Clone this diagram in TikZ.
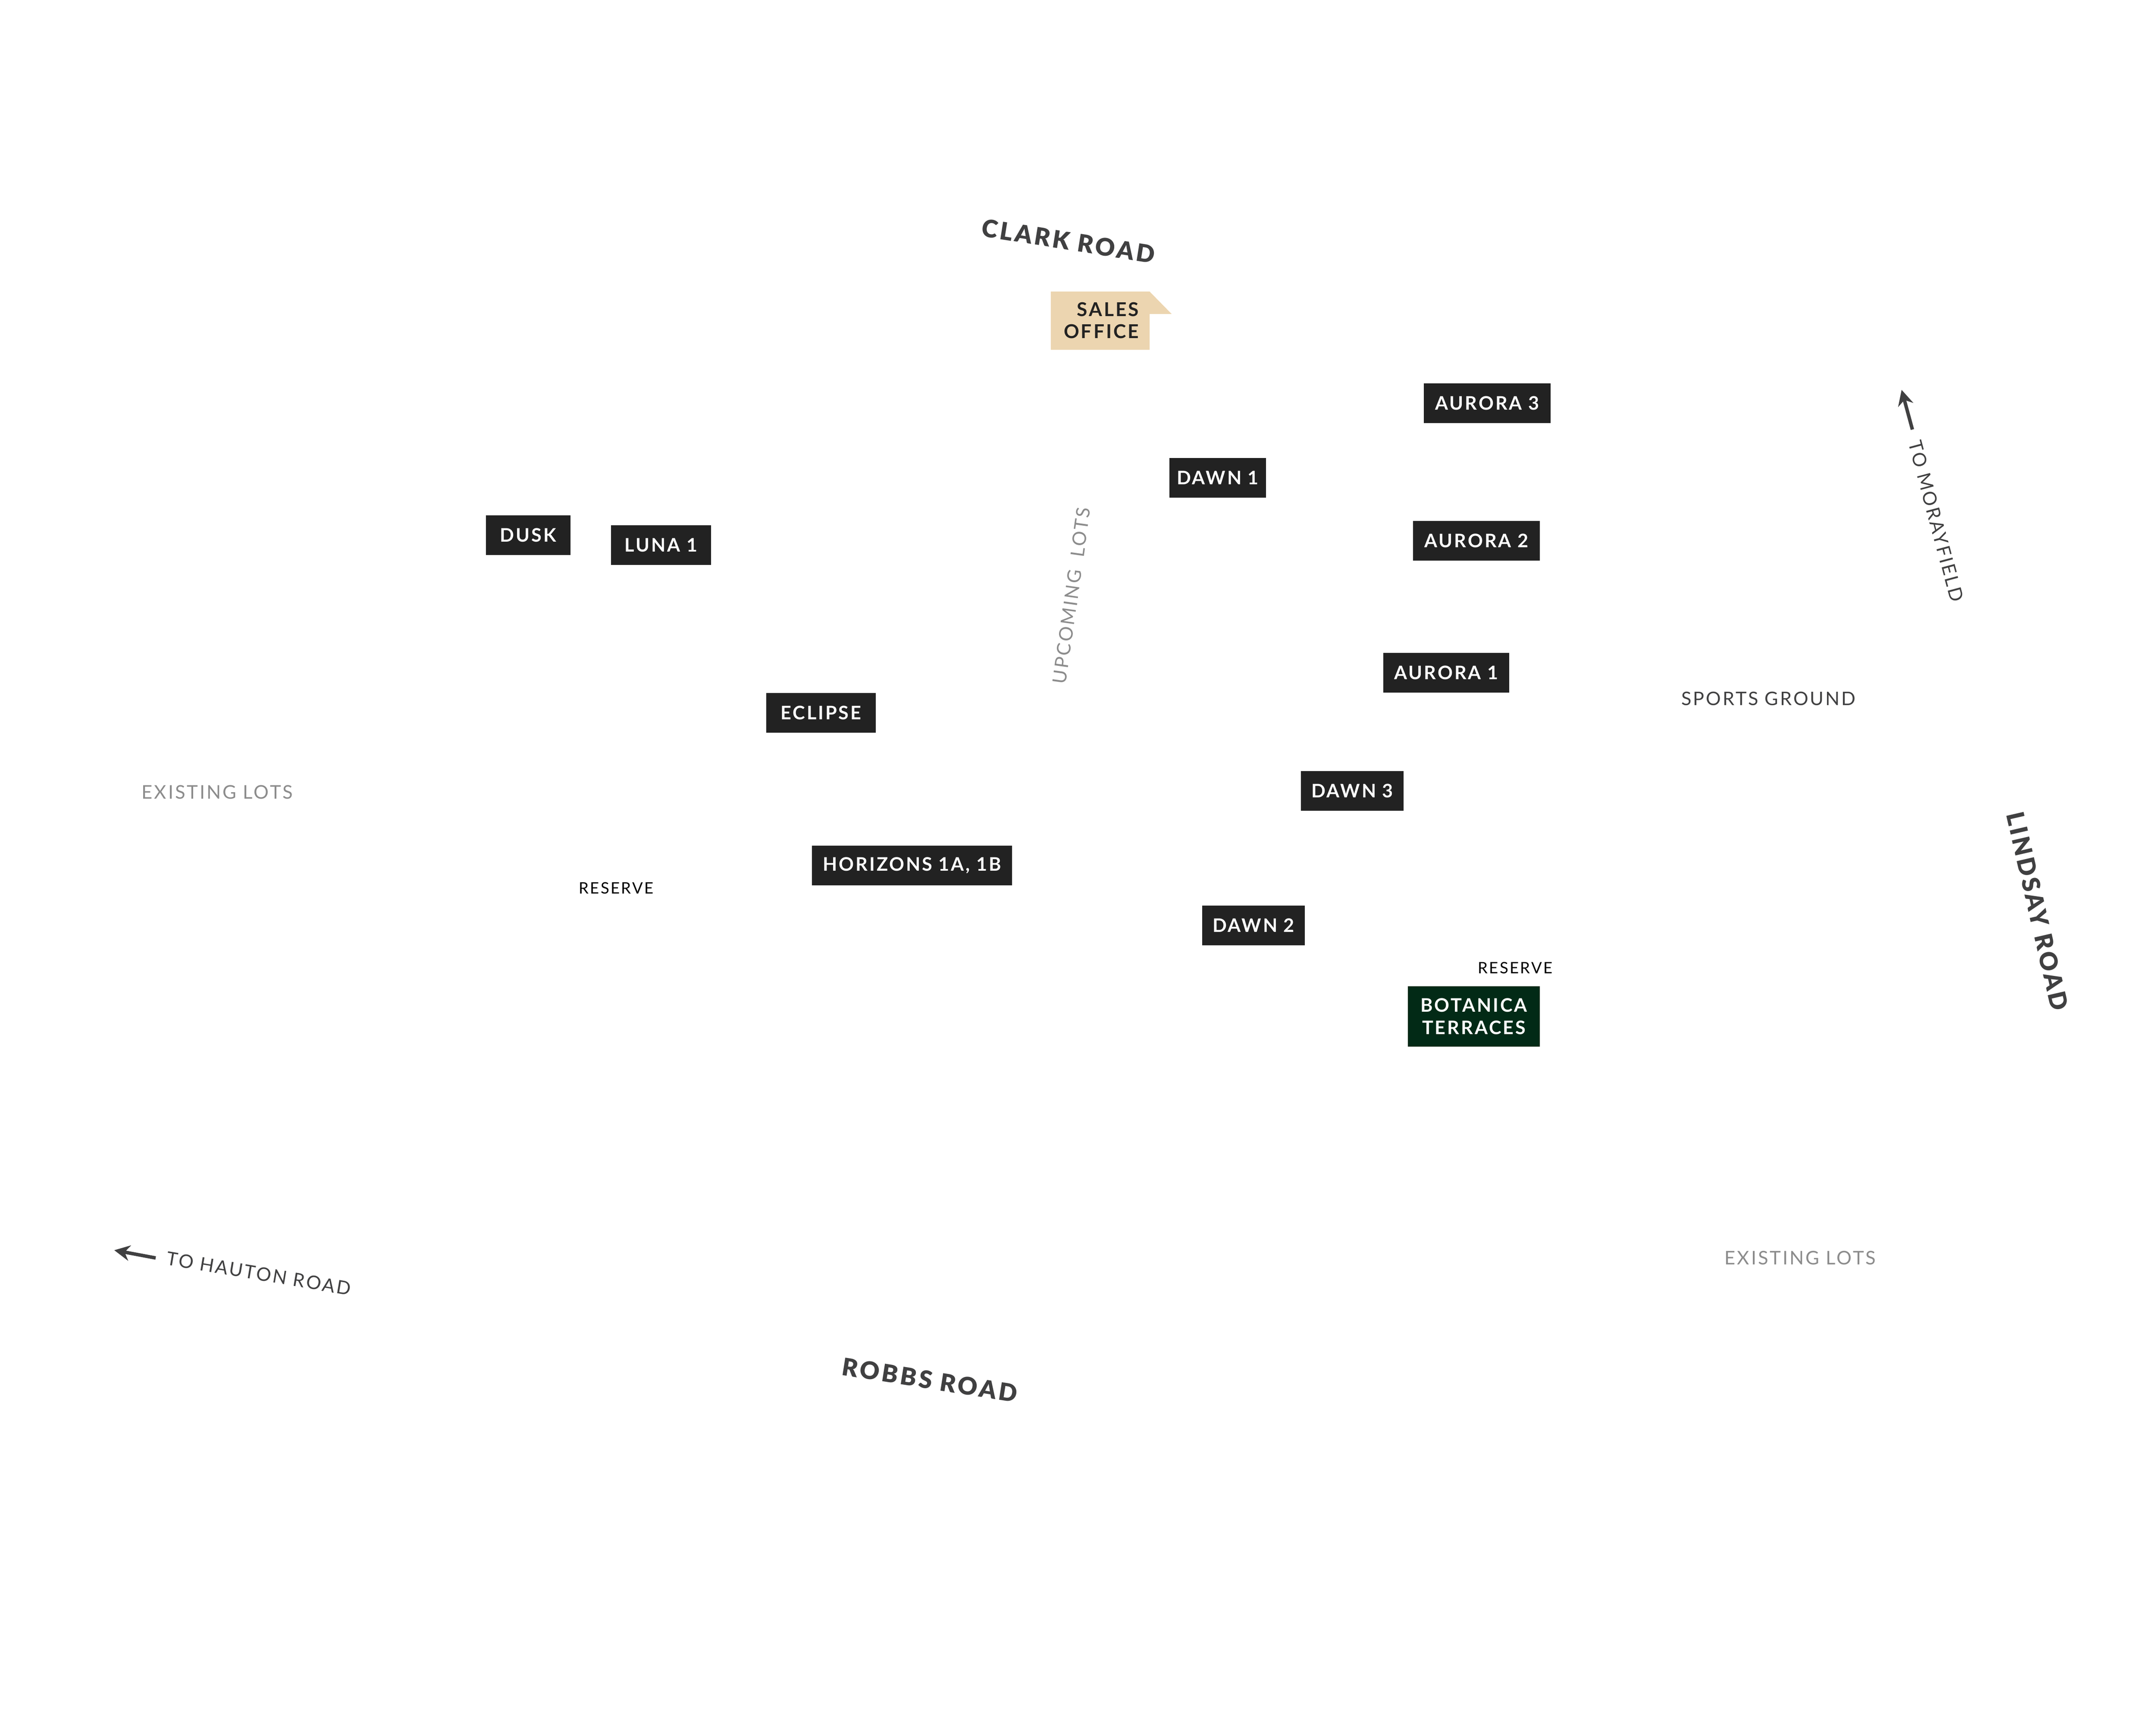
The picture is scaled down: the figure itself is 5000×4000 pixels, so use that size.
\documentclass[tikz,border=0pt]{standalone}
\usepackage{fontspec}
\usetikzlibrary{arrows.meta}
\newfontfamily\boxfont[LetterSpace=9]{Lato}
\newfontfamily\roadfont[LetterSpace=10]{Lato Black}
\newfontfamily\thinfont[LetterSpace=9]{Lato}
\definecolor{boxdark}{HTML}{222222}
\definecolor{boxgreen}{HTML}{022A16}
\definecolor{boxsand}{HTML}{ECD5B0}
\definecolor{roadgrey}{HTML}{404041}
\definecolor{lotgrey}{HTML}{8C8C8C}
\begin{document}
\begin{tikzpicture}[x=0.01cm,y=-0.01cm,inner sep=0pt,outer sep=0pt,
stagebox/.style={fill=boxdark,text=white,minimum height=0.92cm,font=\boxfont\bfseries\fontsize{12.3}{14.6}\selectfont},
roadlabel/.style={text=roadgrey,font=\roadfont\fontsize{16}{18}\selectfont},
thinlabel/.style={text=roadgrey,font=\thinfont\fontsize{12.3}{14}\selectfont},
lotlabel/.style={text=lotgrey,font=\thinfont\fontsize{12.4}{14}\selectfont},
reservelabel/.style={text=black,font=\thinfont\fontsize{10.4}{12}\selectfont}]

\useasboundingbox (0,0) rectangle (5000,4000);

\fill[boxsand] (2437,676) -- (2666,676) -- (2717,728) -- (2666,728) -- (2666,811) -- (2437,811) -- cycle;
\draw (2641,743) node[anchor=east,align=right,text=boxdark,font=\boxfont\bfseries\fontsize{12.6}{14.6}\selectfont] (sales) {SALES\\OFFICE};

\draw (3449,935) node[stagebox,minimum width=2.94cm] (aurora3) {AURORA 3};
\draw (2824,1108) node[stagebox,minimum width=2.24cm] (dawn1) {DAWN 1};
\draw (3424,1254) node[stagebox,minimum width=2.94cm] (aurora2) {AURORA 2};
\draw (1225,1241) node[stagebox,minimum width=1.96cm] (dusk) {DUSK};
\draw (1533,1264) node[stagebox,minimum width=2.32cm] (luna1) {LUNA 1};
\draw (3354,1560) node[stagebox,minimum width=2.92cm] (aurora1) {AURORA 1};
\draw (1904,1653) node[stagebox,minimum width=2.54cm] (eclipse) {ECLIPSE};
\draw (3136,1834) node[stagebox,minimum width=2.38cm] (dawn3) {DAWN 3};
\draw (2115,2007) node[stagebox,minimum width=4.63cm] (horizons) {HORIZONS 1A, 1B};
\draw (2907,2146) node[stagebox,minimum width=2.38cm] (dawn2) {DAWN 2};
\draw (3418,2357) node[stagebox,fill=boxgreen,minimum width=3.05cm,minimum height=1.39cm,align=center] (botanica) {BOTANICA\\TERRACES};

\draw (2478,559) node[roadlabel,rotate=-9] (clark) {CLARK ROAD};
\draw (2156,3200) node[roadlabel,rotate=-9] (robbs) {ROBBS ROAD};
\draw (4725,2113) node[roadlabel,rotate=-77] (lindsay) {LINDSAY ROAD};

\draw (4490,1208) node[thinlabel,rotate=-75] (morayfield) {TO MORAYFIELD};
\draw (600,2953) node[thinlabel,rotate=-9.5] (hauton) {TO HAUTON ROAD};
\draw (4101,1620) node[thinlabel] (sports) {SPORTS GROUND};
\draw (2485,1381) node[lotlabel,rotate=82] (upcoming) {UPCOMING\ \ LOTS};
\draw (504,1837) node[lotlabel] (lotswest) {EXISTING LOTS};
\draw (4175,2917) node[lotlabel] (lotseast) {EXISTING LOTS};
\draw (1429,2059) node[reservelabel] (reservewest) {RESERVE};
\draw (3514,2244) node[reservelabel] (reserveeast) {RESERVE};

\coordinate (moraytail) at (4435,996);
\coordinate (moraytip) at (4410,904);
\coordinate (hautontail) at (361,2917);
\coordinate (hautontip) at (265,2899);
\draw[-{Stealth[length=0.36cm,width=0.36cm]},line width=0.08cm,roadgrey] (moraytail) -- (moraytip);
\draw[-{Stealth[length=0.36cm,width=0.36cm]},line width=0.08cm,roadgrey] (hautontail) -- (hautontip);
\end{tikzpicture}
\end{document}
